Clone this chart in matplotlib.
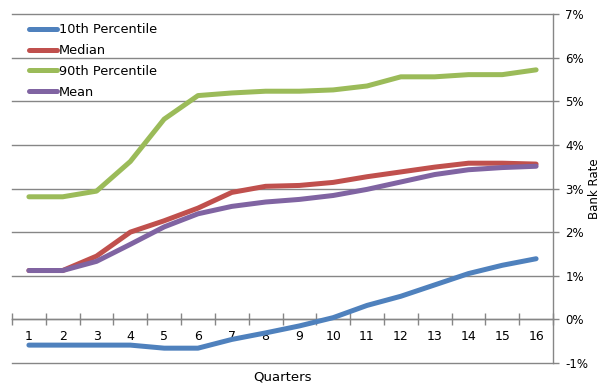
import matplotlib
matplotlib.use("Agg")
import matplotlib.pyplot as plt
from matplotlib.ticker import FixedLocator, FuncFormatter

quarters = list(range(1, 17))
p10 = [-0.59, -0.59, -0.59, -0.59, -0.66, -0.66, -0.46, -0.31, -0.15, 0.04, 0.32, 0.53, 0.79, 1.05, 1.24, 1.39]
median = [1.12, 1.12, 1.45, 2.00, 2.26, 2.55, 2.91, 3.05, 3.07, 3.14, 3.27, 3.38, 3.49, 3.58, 3.58, 3.56]
p90 = [2.81, 2.81, 2.94, 3.62, 4.59, 5.13, 5.19, 5.23, 5.23, 5.26, 5.35, 5.56, 5.56, 5.61, 5.61, 5.72]
mean = [1.12, 1.12, 1.33, 1.72, 2.12, 2.42, 2.59, 2.69, 2.75, 2.84, 2.98, 3.15, 3.32, 3.43, 3.48, 3.51]

series_names = ["10th Percentile", "Median", "90th Percentile", "Mean"]
y_ticks = [-1, 0, 1, 2, 3, 4, 5, 6, 7]

colors = ["#4F81BD", "#C0504D", "#9BBB59", "#8064A2"]
W, H = 612, 390
fig = plt.figure(figsize=(W / 100, H / 100), dpi=100)
ax = fig.add_axes([12 / W, 1 - 363 / H, (553 - 12) / W, (363 - 14) / H])

for vals, name, c in zip([p10, median, p90, mean], series_names, colors):
    ax.plot(quarters, vals, color=c, lw=3.6, solid_capstyle="round",
            solid_joinstyle="round", label=name, zorder=3)

ax.set_xlim(0.5, 16.5)
ax.set_ylim(-1, 7)

# horizontal gridlines
ax.yaxis.tick_right()
ax.yaxis.set_label_position("right")
ax.set_yticks(y_ticks)
ax.yaxis.set_major_formatter(FuncFormatter(lambda v, p: f"{int(v)}%"))
ax.grid(axis="y", color="#868686", lw=1)
for gl in ax.get_ygridlines():
    gl.set_clip_on(False)
ax.set_axisbelow(True)
ax.tick_params(axis="y", which="major", direction="out", length=4, width=1,
               color="#868686", pad=5, labelsize=8.5, right=True, left=False)
for s in ["left", "top"]:
    ax.spines[s].set_visible(False)
ax.spines["right"].set_color("#868686")
ax.spines["right"].set_linewidth(1)

# category axis at 0
ax.spines["bottom"].set_position(("data", 0))
ax.spines["bottom"].set_color("#868686")
ax.spines["bottom"].set_linewidth(1)
ax.xaxis.set_major_locator(FixedLocator([q - 0.5 for q in quarters] + [16.5]))
ax.xaxis.set_minor_locator(FixedLocator(quarters))
ax.xaxis.set_major_formatter(FuncFormatter(lambda v, p: ""))
ax.xaxis.set_minor_formatter(FuncFormatter(lambda v, p: f"{int(round(v))}"))
ax.tick_params(axis="x", which="major", direction="inout", length=9, width=1, color="#868686")
ax.tick_params(axis="x", which="minor", length=0, pad=8, labelsize=9)

ax.set_ylabel("Bank Rate", fontsize=8.5, labelpad=0, rotation=90)
fig.text(283 / W, 1 - 377 / H, "Quarters", ha="center", va="center", fontsize=9.5)

leg = ax.legend(loc="upper left", bbox_to_anchor=(0.017, 0.995),
                frameon=False, fontsize=9.3, handlelength=2.2, handletextpad=0.1,
                labelspacing=0.6, borderaxespad=0.2)

fig.savefig("out.png", dpi=100)
